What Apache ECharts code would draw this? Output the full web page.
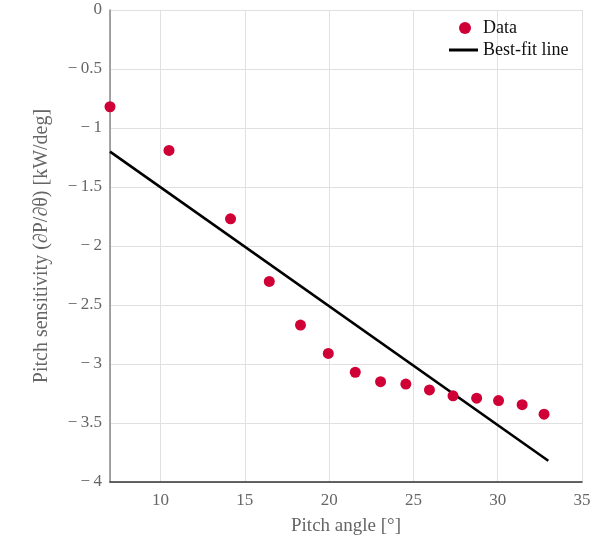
<!DOCTYPE html>
<html>
<head>
<meta charset="utf-8">
<script src="https://cdn.jsdelivr.net/npm/echarts@6/dist/echarts.min.js"></script>
<style>
  html, body { margin: 0; padding: 0; background: #fff; }
  #chart { width: 611px; height: 544px; }
</style>
</head>
<body>
<div id="chart"></div>
<script>
// measured points
var pitchAngle = [7.0, 10.5, 14.15, 16.45, 18.3, 19.95, 21.55, 23.05, 24.55, 25.95, 27.35, 28.75, 30.05, 31.45, 32.75];
var sensitivity = [-0.82, -1.19, -1.77, -2.30, -2.67, -2.91, -3.07, -3.15, -3.17, -3.22, -3.27, -3.29, -3.31, -3.345, -3.425];

// best-fit line end points
var fitX = [7.0, 33.0];
var fitY = [-1.20, -3.82];

var yTicks = [-4, -3.5, -3, -2.5, -2, -1.5, -1, -0.5, 0];

var font = "'Liberation Serif', 'DejaVu Serif', serif";

function minus(v) {
  return v < 0 ? "\u2212\u2009" + Math.abs(v) : String(v);
}

var myChart = echarts.init(document.getElementById("chart"));

var legendText = { fontFamily: font, fontSize: 18, color: "#111" };

var option = {
  animation: false,
  textStyle: { fontFamily: font },
  grid: { left: 110, right: 29, top: 10, bottom: 62 },
  legend: [
    {
      left: 459,
      top: 19,
      padding: 0,
      itemWidth: 26,
      itemHeight: 12,
      textStyle: legendText,
      data: [{ name: "Data", icon: "circle" }]
    },
    {
      left: 449,
      top: 41,
      padding: 0,
      itemWidth: 29,
      itemHeight: 3,
      textStyle: legendText,
      data: [{ name: "Best-fit line", icon: "rect" }]
    }
  ],
  xAxis: {
    type: "value",
    min: 7,
    max: 35,
    name: "Pitch angle [°]",
    nameLocation: "middle",
    nameGap: 35,
    nameTextStyle: { fontFamily: font, fontSize: 19, color: "#666" },
    axisLine: { onZero: false, lineStyle: { color: "#333", width: 1.5 } },
    axisTick: { show: false },
    axisLabel: {
      fontFamily: font,
      fontSize: 17,
      color: "#666",
      margin: 10,
      formatter: function (v) {
        return v % 5 === 0 ? String(v) : "";
      }
    },
    splitLine: { lineStyle: { color: "#e0e0e0" } }
  },
  yAxis: {
    type: "value",
    min: yTicks[0],
    max: yTicks[yTicks.length - 1],
    interval: 0.5,
    name: "Pitch sensitivity (∂P/∂θ) [kW/deg]",
    nameLocation: "middle",
    nameGap: 58,
    nameTextStyle: { fontFamily: font, fontSize: 20, color: "#666" },
    axisLine: { show: true, onZero: false, lineStyle: { color: "#888", width: 1.5 } },
    axisTick: { show: false },
    axisLabel: {
      fontFamily: font,
      fontSize: 17,
      color: "#666",
      margin: 8,
      formatter: minus
    },
    splitLine: { lineStyle: { color: "#e0e0e0" } }
  },
  series: [
    {
      name: "Data",
      type: "scatter",
      data: pitchAngle.map(function (x, i) { return [x, sensitivity[i]]; }),
      symbolSize: 11,
      itemStyle: { color: "#d00036", opacity: 1 },
      z: 3
    },
    {
      name: "Best-fit line",
      type: "line",
      data: fitX.map(function (x, i) { return [x, fitY[i]]; }),
      symbol: "none",
      lineStyle: { color: "#000", width: 2.6 },
      itemStyle: { color: "#000" },
      z: 2
    }
  ]
};

myChart.setOption(option);
</script>
</body>
</html>
